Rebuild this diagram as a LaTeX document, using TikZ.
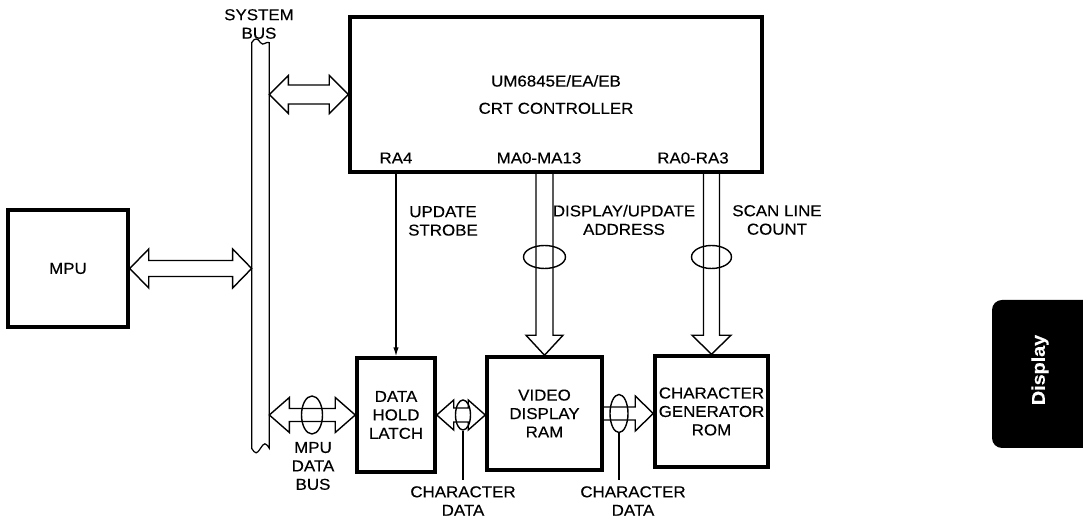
\documentclass[tikz,border=0pt]{standalone}
\usepackage{fontspec}
\setsansfont{Liberation Sans}[FakeStretch=1.07,FakeBold=0.3]
\usetikzlibrary{arrows.meta,positioning,shapes.geometric,calc}

% wide bus arrow, open at both ends: from, to, shaft half, head half, head length
\newcommand\dblbus[5]{\draw[busarrow] (#1) -- ($(#1)!#5!(#2)!#4!90:(#2)$) -- ($(#1)!#5!(#2)!#3!90:(#2)$) -- ($(#2)!#5!(#1)!#3!-90:(#1)$) -- ($(#2)!#5!(#1)!#4!-90:(#1)$) -- (#2) -- ($(#2)!#5!(#1)!#4!90:(#1)$) -- ($(#2)!#5!(#1)!#3!90:(#1)$) -- ($(#1)!#5!(#2)!#3!-90:(#2)$) -- ($(#1)!#5!(#2)!#4!-90:(#2)$) -- cycle;}
% wide bus arrow with one head
\newcommand\onebus[5]{\draw[busarrow] ($(#1)!#3!90:(#2)$) -- ($(#2)!#5!(#1)!#3!-90:(#1)$) -- ($(#2)!#5!(#1)!#4!-90:(#1)$) -- (#2) -- ($(#2)!#5!(#1)!#4!90:(#1)$) -- ($(#2)!#5!(#1)!#3!90:(#1)$) -- ($(#1)!#3!-90:(#2)$);}

\begin{document}
\begin{tikzpicture}[x=0.02cm,y=-0.02cm,>={Latex[length=5pt,width=3pt]},every node/.style={font=\sffamily\fontsize{9}{10.5}\selectfont,align=center},unit/.style={draw,line width=2pt,inner sep=0pt},busarrow/.style={line width=0.8pt,line join=miter},bundle/.style={draw,ellipse,inner sep=0pt,line width=0.8pt},wire/.style={line width=0.7pt}]
\useasboundingbox (0,0) rectangle (1083,519);
\node[unit,minimum width=2.4cm,minimum height=2.34cm] (mpu) at (68,268.5) {MPU};
\node[unit,minimum width=8.24cm,minimum height=3.1cm] (crt) at (556,94.5) {UM6845E/EA/EB\\[5pt]CRT CONTROLLER};
\node[unit,minimum width=1.56cm,minimum height=2.28cm] (latch) at (396,415) {DATA\\HOLD\\LATCH};
\node[unit,minimum width=2.3cm,minimum height=2.26cm] (ram) at (544.5,413.5) {VIDEO\\DISPLAY\\RAM};
\node[unit,minimum width=2.26cm,minimum height=2.22cm] (rom) at (711.5,411.5) {CHARACTER\\GENERATOR\\ROM};
\node[minimum width=0.34cm,minimum height=8.1cm,inner sep=0pt] (bus) at (260.5,245.5) {};
\draw[wire] (bus.north west) -- (bus.south west) .. controls +(4,6) and +(-4,6) .. (bus.south) .. controls +(4,-6) and +(-4,-6) .. (bus.south east) -- (bus.north east) .. controls +(-3,-2) and +(3,4) .. (bus.north) .. controls +(-3,-5) and +(3,-5) .. (bus.north west);
\node (sysbus) at (259,24) {SYSTEM\\BUS};
\node (ra4) at (396,158) {RA4};
\node (ma) at (539,158) {MA0-MA13};
\node (ra) at (693,158) {RA0-RA3};
\node (strobe) at (443,221) {UPDATE\\STROBE};
\node (addr) at (624,220) {DISPLAY/UPDATE\\ADDRESS};
\node (scan) at (777,220) {SCAN LINE\\COUNT};
\node (mpubus) at (313,466) {MPU\\DATA\\BUS};
\node (cdA) at (463,501) {CHARACTER\\DATA};
\node (cdB) at (633,501) {CHARACTER\\DATA};
% buses
\dblbus{crt.west -| bus.east}{crt.west}{0.19cm}{0.38cm}{0.38cm}
\dblbus{mpu.east}{mpu.east -| bus.west}{0.16cm}{0.39cm}{0.38cm}
\dblbus{latch.west -| bus.east}{latch.west}{0.13cm}{0.35cm}{0.4cm}
\dblbus{latch.east}{ram.west |- latch.east}{0.14cm}{0.3cm}{0.34cm}
\onebus{ram.east}{rom.west |- ram.east}{0.13cm}{0.35cm}{0.36cm}
\onebus{crt.south -| ram.north}{ram.north}{0.17cm}{0.37cm}{0.4cm}
\onebus{crt.south -| rom.north}{rom.north}{0.16cm}{0.39cm}{0.38cm}
\draw[wire,->] (crt.south -| latch.north) -- (latch.north);
% bundle rings
\node[bundle,minimum width=0.84cm,minimum height=0.46cm] (ringMA) at (544.5,257) {};
\node[bundle,minimum width=0.8cm,minimum height=0.46cm] (ringRA) at (711.5,257) {};
\node[bundle,minimum width=0.42cm,minimum height=0.76cm] (ringMPU) at (312,415) {};
\node[bundle,minimum width=0.3cm,minimum height=0.6cm] (ringCD1) at (463,415) {};
\node[bundle,minimum width=0.36cm,minimum height=0.76cm] (ringCD2) at (619,413.5) {};
\draw[wire] (ringCD1.south) -- (ringCD1.south |- cdA.north);
\draw[wire] (ringCD2.south) -- (ringCD2.south |- cdB.north);
% section tab
\fill[rounded corners=0.2cm] (1083,300) -- (992,300) -- (992,448) -- (1083,448);
\node[rotate=90,text=white,font=\sffamily\bfseries\fontsize{10.5}{12}\selectfont] (tab) at (1040,370) {Display};
\end{tikzpicture}
\end{document}
